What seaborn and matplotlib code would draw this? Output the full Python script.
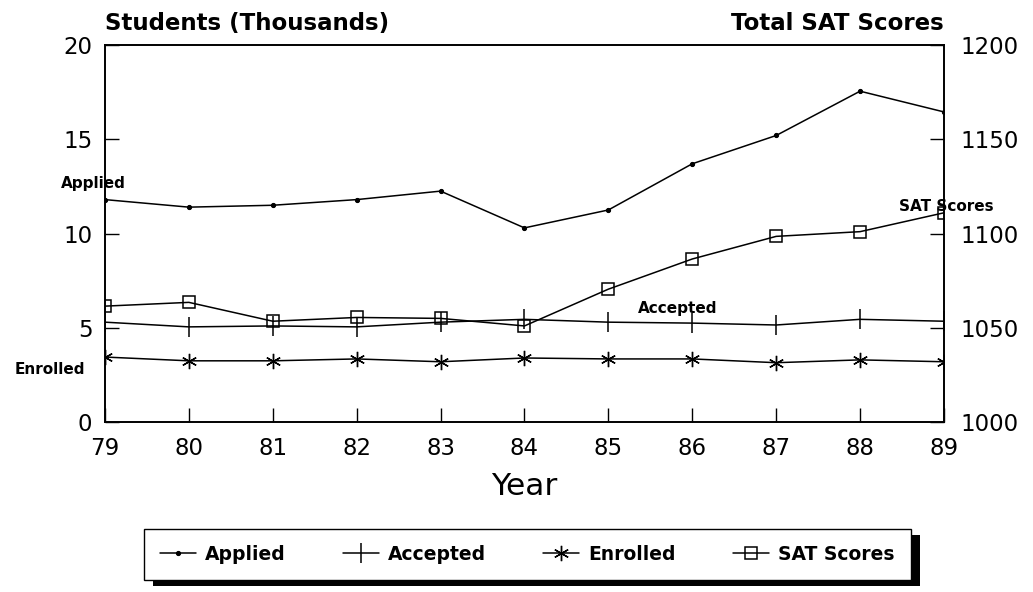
import matplotlib
matplotlib.use("Agg")
import matplotlib.pyplot as plt
from matplotlib.patches import Rectangle
import seaborn as sns
import pandas as pd

years = [79, 80, 81, 82, 83, 84, 85, 86, 87, 88, 89]
applied = [11.8, 11.4, 11.5, 11.8, 12.25, 10.3, 11.25, 13.7, 15.2, 17.55, 16.45]
accepted = [5.3, 5.05, 5.1, 5.05, 5.3, 5.45, 5.3, 5.25, 5.15, 5.45, 5.35]
enrolled = [3.45, 3.25, 3.25, 3.35, 3.2, 3.4, 3.35, 3.35, 3.15, 3.3, 3.2]
sat_scores = [1061.5, 1063.5, 1053.5, 1055.5, 1055, 1051, 1070.5, 1086.5, 1098.5, 1101, 1111]

sns.set_theme(style="white")
plt.rcParams['font.family'] = ['DejaVu Sans']
plt.rcParams['text.color'] = 'black'
plt.rcParams['axes.labelcolor'] = 'black'

df = pd.DataFrame({"Year": years, "Applied": applied, "Accepted": accepted,
                   "Enrolled": enrolled, "SAT": sat_scores})

fig = plt.figure(figsize=(10.33, 5.92), dpi=100)
ax = fig.add_axes([0.1016, 0.287, 0.8122, 0.637])
ax2 = ax.twinx()

lw = 1.1
sns.lineplot(data=df, x="Year", y="Applied", ax=ax, color="black", lw=lw,
             marker="o", markersize=3, markeredgecolor="black", markerfacecolor="black",
             label="Applied", legend=False)
sns.lineplot(data=df, x="Year", y="Accepted", ax=ax, color="black", lw=lw,
             marker="|", markersize=14, markeredgewidth=1.1, markeredgecolor="black",
             label="Accepted", legend=False)
sns.lineplot(data=df, x="Year", y="Enrolled", ax=ax, color="black", lw=lw,
             marker=(6, 2, 0), markersize=11, markeredgewidth=1.0, markeredgecolor="black",
             label="Enrolled", legend=False)
sns.lineplot(data=df, x="Year", y="SAT", ax=ax2, color="black", lw=lw,
             marker="s", markersize=8.5, markerfacecolor="none", markeredgecolor="black",
             markeredgewidth=1.1, label="SAT Scores", legend=False)

ax.set_xlim(79, 89)
ax.set_ylim(0, 20)
ax2.set_ylim(1000, 1200)
ax.set_xticks(years)
ax.set_xticklabels([str(y) for y in years])
ax.set_yticks([0, 5, 10, 15, 20])
ax2.set_yticks([1000, 1050, 1100, 1150, 1200])

for a in (ax, ax2):
    for s in a.spines.values():
        s.set_color("black")
        s.set_linewidth(1.2)
ax.tick_params(axis="x", bottom=True, top=False, direction="in", length=10, width=1,
               color="black", labelsize=16.5, pad=11, labelcolor="black")
ax.tick_params(axis="y", left=True, right=False, direction="in", length=10, width=1,
               color="black", labelsize=16.5, pad=9, labelcolor="black")
ax2.tick_params(axis="y", right=True, left=False, direction="in", length=10, width=1,
                color="black", labelsize=16.5, pad=12, labelcolor="black")
ax.set_xlabel("Year", fontsize=22.5, color="black")
ax.xaxis.set_label_coords(0.5, -0.17)
ax.xaxis.label.set_va("center")
ax.set_ylabel("")
ax2.set_ylabel("")
ax.grid(False)
ax2.grid(False)

ax.text(0.0, 1.04, "Students (Thousands)", transform=ax.transAxes, ha="left",
        va="baseline", fontsize=16.5, fontweight="bold", color="black")
ax.text(1.0, 1.04, "Total SAT Scores", transform=ax.transAxes, ha="right",
        va="baseline", fontsize=16.5, fontweight="bold", color="black")

lab_kw = dict(fontsize=11, fontweight="bold", transform=fig.transFigure, va="center",
              color="black")
fig.text(93 / 1033, 1 - 184 / 592, "Applied", ha="center", **lab_kw)
fig.text(50 / 1033, 1 - 369 / 592, "Enrolled", ha="center", **lab_kw)
fig.text(678 / 1033, 1 - 308 / 592, "Accepted", ha="center", **lab_kw)
fig.text(946 / 1033, 1 - 206 / 592, "SAT Scores", ha="center", **lab_kw)

h1, l1 = ax.get_legend_handles_labels()
h2, l2 = ax2.get_legend_handles_labels()
leg = fig.legend(h1 + h2, l1 + l2, loc="center", bbox_to_anchor=(0.5106, 0.0633),
                 ncol=4, frameon=True, fancybox=False, fontsize=13.5,
                 handlelength=1.9, columnspacing=3.05, borderpad=0.85,
                 handletextpad=0.5, framealpha=1.0, facecolor="white")
leg.get_frame().set_edgecolor("black")
leg.get_frame().set_linewidth(1.0)
for t in leg.get_texts():
    t.set_fontweight("bold")
    t.set_color("black")

fig.canvas.draw()
bb = leg.get_window_extent().transformed(fig.transFigure.inverted())
dx, dy = 9 / 1033, 6 / 592
shadow = Rectangle((bb.x0 + dx, bb.y0 - dy), bb.width, bb.height,
                   transform=fig.transFigure, facecolor="black", edgecolor="none",
                   zorder=leg.get_zorder() - 0.5)
fig.add_artist(shadow)
leg.set_zorder(leg.get_zorder() + 1)

fig.savefig("out.png", dpi=100)
